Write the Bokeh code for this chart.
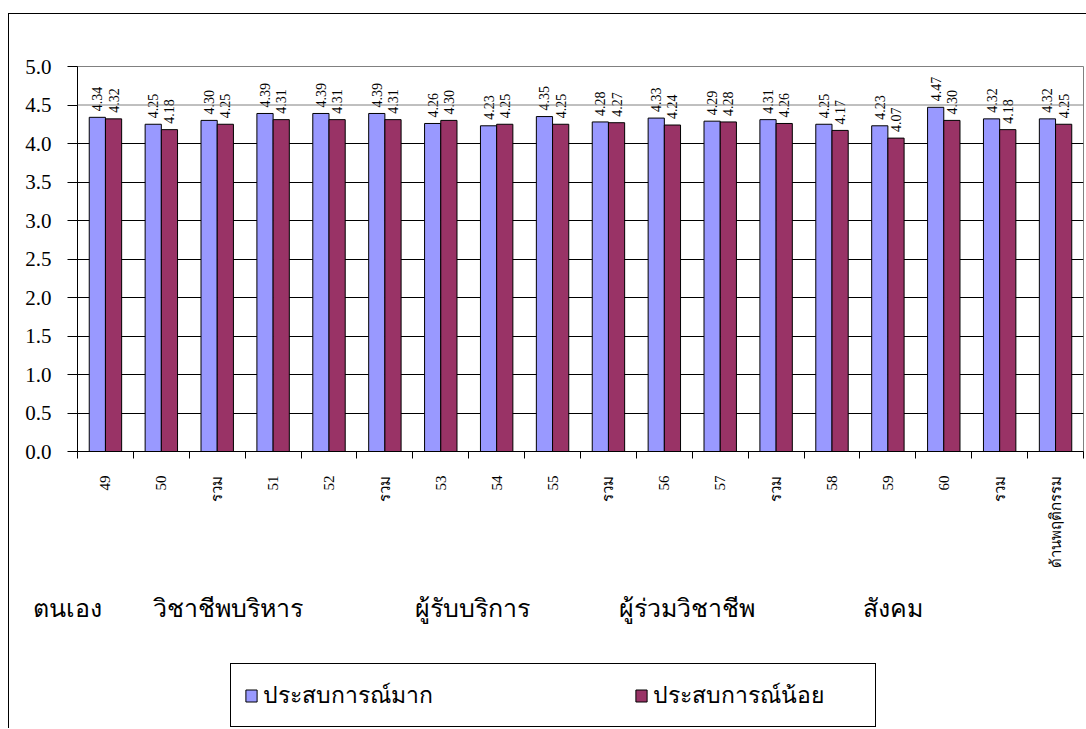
import math
from bokeh.plotting import figure
from bokeh.layouts import column
from bokeh.models import (Range1d, FixedTicker, CustomJSTickFormatter, NumeralTickFormatter,
                          ColumnDataSource, LabelSet, Legend, LegendItem, Span)
from bokeh.transform import dodge
from bokeh.core.properties import value
from bokeh.embed import file_html
from bokeh.resources import INLINE

categories = ["49", "50", "รวม", "51", "52", "รวม", "53", "54", "55", "รวม",
              "56", "57", "รวม", "58", "59", "60", "รวม", "ด้านพฤติกรรม"]
much = [4.34, 4.25, 4.30, 4.39, 4.39, 4.39, 4.26, 4.23, 4.35, 4.28,
        4.33, 4.29, 4.31, 4.25, 4.23, 4.47, 4.32, 4.32]
little = [4.32, 4.18, 4.25, 4.31, 4.31, 4.31, 4.30, 4.25, 4.25, 4.27,
          4.24, 4.28, 4.26, 4.17, 4.07, 4.30, 4.18, 4.25]
series_names = ["ประสบการณ์มาก", "ประสบการณ์น้อย"]
groups = ["ตนเอง", "วิชาชีพบริหาร", "ผู้รับบริการ", "ผู้ร่วมวิชาชีพ", "สังคม"]
y_ticks = [0.0, 0.5, 1.0, 1.5, 2.0, 2.5, 3.0, 3.5, 4.0, 4.5, 5.0]

# layout settings (group label positions in category units, y in px from top of lower panel)
group_x = [-0.79, 1.35, 6.04, 9.68, 14.06]
group_y = [36] * len(groups)
BLUE = "#9999FF"
MAROON = "#993366"
SERIF = "Liberation Serif"
THAI = "Noto Sans"

n = len(categories)
centers = [i + 0.5 for i in range(n)]
src = ColumnDataSource(dict(
    x=centers, much=much, little=little,
    much_txt=[f"{v:.2f}" for v in much],
    little_txt=[f"{v:.2f}" for v in little],
))

W = 1077
H1 = 556
H2 = 158
BL, BR = 68, 3
px_per_cat = (W - BL - BR) / n

p = figure(width=W, height=H1, x_range=Range1d(0, n), y_range=Range1d(0, 5),
           output_backend="svg", toolbar_location=None,
           min_border_left=BL, min_border_right=BR, min_border_top=52, min_border_bottom=114)
p.frame_align = False
p.background_fill_color = "white"
p.border_fill_color = "white"
p.outline_line_color = "#808080"
p.outline_line_width = 1

bw = 0.29
off = 0.145
r1 = p.vbar(x=dodge("x", -off), top="much", width=bw, source=src,
            fill_color=BLUE, line_color="black", line_width=1)
r2 = p.vbar(x=dodge("x", off), top="little", width=bw, source=src,
            fill_color=MAROON, line_color="black", line_width=1)

for col, txt, d in (("much", "much_txt", -off), ("little", "little_txt", off)):
    p.add_layout(LabelSet(x=dodge("x", d), y=col, text=txt, source=src,
                          angle=math.pi / 2, text_align="left", text_baseline="middle",
                          y_offset=6, text_font=value(SERIF), text_font_size=value("14px"),
                          text_color="black"))

# x axis
xa = p.xaxis[0]
xa.ticker = FixedTicker(ticks=centers, minor_ticks=list(range(n + 1)))
xa.formatter = CustomJSTickFormatter(args=dict(labels=categories),
                                     code="return labels[Math.floor(tick)];")
xa.major_tick_in = 0
xa.major_tick_out = 0
xa.minor_tick_in = 0
xa.minor_tick_out = 7
xa.minor_tick_line_color = "black"
xa.axis_line_color = "black"
xa.major_label_orientation = math.pi / 2
xa.major_label_standoff = 17
xa.major_label_text_font = SERIF
xa.major_label_text_font_size = "15px"
xa.major_label_text_color = "black"

# y axis
ya = p.yaxis[0]
ya.ticker = FixedTicker(ticks=y_ticks)
ya.formatter = NumeralTickFormatter(format="0.0")
ya.major_tick_in = 0
ya.major_tick_out = 10
ya.minor_tick_line_color = None
ya.axis_line_color = "black"
ya.major_tick_line_color = "black"
ya.major_label_standoff = 16
ya.major_label_text_font = SERIF
ya.major_label_text_font_size = "21px"
ya.major_label_text_color = "black"

p.xgrid.grid_line_color = None
p.ygrid.ticker = FixedTicker(ticks=[t for t in y_ticks if 0 < t < 4.5])
p.ygrid.grid_line_color = "black"
p.ygrid.grid_line_width = 1
p.add_layout(Span(location=4.5, dimension="width", line_color="#808080", line_width=1))

# lower panel: group names and legend
p2 = figure(width=W, height=H2,
            x_range=Range1d(-BL / px_per_cat, n + BR / px_per_cat), y_range=Range1d(H2, 0),
            output_backend="svg", toolbar_location=None,
            x_axis_location=None, y_axis_location=None,
            min_border_left=0, min_border_right=0, min_border_top=0, min_border_bottom=0)
p2.frame_align = False
p2.grid.grid_line_color = None
p2.outline_line_color = None
p2.background_fill_color = "white"
p2.border_fill_color = "white"

gsrc = ColumnDataSource(dict(x=group_x, y=group_y, text=groups))
p2.text(x="x", y="y", text="text", source=gsrc, text_align="left", text_baseline="middle",
        text_font=value(THAI), text_font_size="25px", text_color="black")

e = ColumnDataSource(dict(x=[float("nan")], top=[float("nan")]))
l1 = p2.vbar(x="x", top="top", width=0.3, source=e, fill_color=BLUE, line_color="black")
l2 = p2.vbar(x="x", top="top", width=0.3, source=e, fill_color=MAROON, line_color="black")

legend = Legend(items=[LegendItem(label=series_names[0], renderers=[l1]),
                       LegendItem(label=series_names[1], renderers=[l2])],
                orientation="horizontal", location=(221, 1), spacing=162,
                padding=13, margin=0, glyph_width=14, glyph_height=15, label_standoff=5,
                label_width=209,
                label_text_font=THAI, label_text_font_size="23px", label_text_color="black",
                border_line_color="black", border_line_width=1, border_line_alpha=1,
                background_fill_color="white", background_fill_alpha=1)
p2.add_layout(legend, "center")

layout = column(p, p2, spacing=0, margin=(13, 0, 0, 8),
                styles={"border-left": "1px solid black", "border-top": "1px solid black"})

open("out.html", "w").write(file_html(layout, INLINE))
